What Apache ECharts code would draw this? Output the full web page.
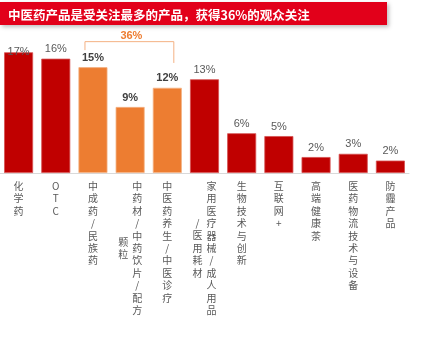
<!DOCTYPE html>
<html>
<head>
<meta charset="utf-8">
<script src="https://cdn.jsdelivr.net/npm/echarts@6/dist/echarts.min.js"></script>
<style>html,body{margin:0;padding:0;background:#fff;}#c{width:443px;height:346px;}</style>
</head>
<body>
<div id="c"></div>
<script>
const titleText = '中医药产品是受关注最多的产品，获得36%的观众关注';
const categories = ['化学药','OTC','中成药/民族药','中药材/中药饮片/配方颗粒','中医药养生/中医诊疗','家用医疗器械/成人用品/医用耗材','生物技术与创新','互联网+','高端健康茶','医药物流技术与设备','防霾产品'];
const labelMain = ['化学药','OTC','中成药/民族药','中药材/中药饮片/配方','中医药养生/中医诊疗','家用医疗器械/成人用品','生物技术与创新','互联网+','高端健康茶','医药物流技术与设备','防霾产品'];
const labelWrap = ['','','','颗粒','','/医用耗材','','','','',''];
const values = [17.0, 16.1, 14.9, 9.3, 12.0, 13.2, 5.6, 5.2, 2.25, 2.7, 1.75];
const valueLabels = ['17%','16%','15%','9%','12%','13%','6%','5%','2%','3%','2%'];
const groupFlags = [0,0,1,1,1,0,0,0,0,0,0];
const groupLabel = '36%';
const groupRange = [2, 4];

const RED = '#C00000', ORANGE = '#ED7D31';
const chart = echarts.init(document.getElementById('c'));
const LH = 12.4;
const cjk = '"Noto Sans CJK SC", "Noto Sans", sans-serif';

const seriesData = values.map((v, i) => {
  const item = {
    value: v,
    itemStyle: { color: groupFlags[i] ? ORANGE : RED, borderColor: groupFlags[i] ? '#F4B183' : '#D65050', borderWidth: 0.8 },
    label: {
      formatter: valueLabels[i],
      fontWeight: groupFlags[i] ? 'bold' : 'normal',
      color: groupFlags[i] ? '#404040' : '#595959'
    }
  };
  if (i === 0) item.label.offset = [0, 9];
  return item;
});

chart.setOption({
  animation: false,
  title: {
    text: titleText, left: 3, top: 4,
    textStyle: { color: '#fff', fontSize: 12.5, fontWeight: 'bold', fontFamily: cjk }
  },
  grid: { left: -3, width: 412, top: 31, height: 142 },
  xAxis: [{
    type: 'category', data: categories,
    axisLine: { lineStyle: { color: '#D9D9D9' } },
    axisTick: { show: false },
    axisLabel: {
      interval: 0, margin: 7,
      formatter: (v, idx) => {
        const chars = labelMain[idx].split('');
        const st = labelWrap[idx] ? 's' : 'n';
        return chars.map(c => '{' + st + '|' + c + '}').join('\n');
      },
      rich: {
        n: { fontSize: 10, lineHeight: LH, color: '#595959', fontFamily: cjk },
        s: { fontSize: 10, lineHeight: LH, color: '#595959', fontFamily: cjk, padding: [0, 0, 0, 14] }
      }
    }
  }, {
    type: 'category', data: labelWrap, position: 'bottom',
    axisLine: { show: false }, axisTick: { show: false }, splitLine: { show: false },
    axisLabel: {
      interval: 0, margin: 75, verticalAlign: 'middle',
      formatter: (v) => v ? v.split('').map(c => '{w|' + c + '}').join('\n') : '',
      rich: {
        w: { fontSize: 10, lineHeight: LH, color: '#595959', fontFamily: cjk, padding: [0, 14, 0, 0] }
      }
    }
  }],
  yAxis: { type: 'value', min: 0, max: 20, show: false, splitLine: { show: false } },
  series: [{
    type: 'bar', xAxisIndex: 0, barWidth: 29, data: seriesData,
    label: { show: true, position: 'top', distance: 4, fontSize: 11, fontFamily: '"Liberation Sans", Arial, sans-serif' }
  }]
});

// annotations
const xL = chart.convertToPixel({ xAxisIndex: 0 }, groupRange[0]) - 8;
const xR = chart.convertToPixel({ xAxisIndex: 0 }, groupRange[1]) + 6.5;
const yTop = chart.convertToPixel({ yAxisIndex: 0 }, 18.5);
const yLB = chart.convertToPixel({ yAxisIndex: 0 }, 17.3);
const yRB = chart.convertToPixel({ yAxisIndex: 0 }, 15.5);
const yTxt = chart.convertToPixel({ yAxisIndex: 0 }, 19.3);
chart.setOption({
  graphic: [
    { type: 'rect', z: -1, shape: { x: 0, y: 2, width: 387, height: 23 },
      style: { fill: '#E2001A', shadowBlur: 4, shadowOffsetX: 2, shadowOffsetY: 2, shadowColor: 'rgba(0,0,0,0.25)' } },
    { type: 'polyline', shape: { points: [[xL, yLB], [xL, yTop], [xR, yTop], [xR, yRB]] },
      style: { stroke: '#F4B183', lineWidth: 1, fill: null } },
    { type: 'text', x: (xL + xR) / 2 + 2, y: yTxt,
      style: { text: groupLabel, fill: ORANGE, fontSize: 11, fontWeight: 'bold', fontFamily: '"Liberation Sans", Arial, sans-serif', align: 'center', verticalAlign: 'middle' } }
  ]
});
</script>
</body>
</html>
